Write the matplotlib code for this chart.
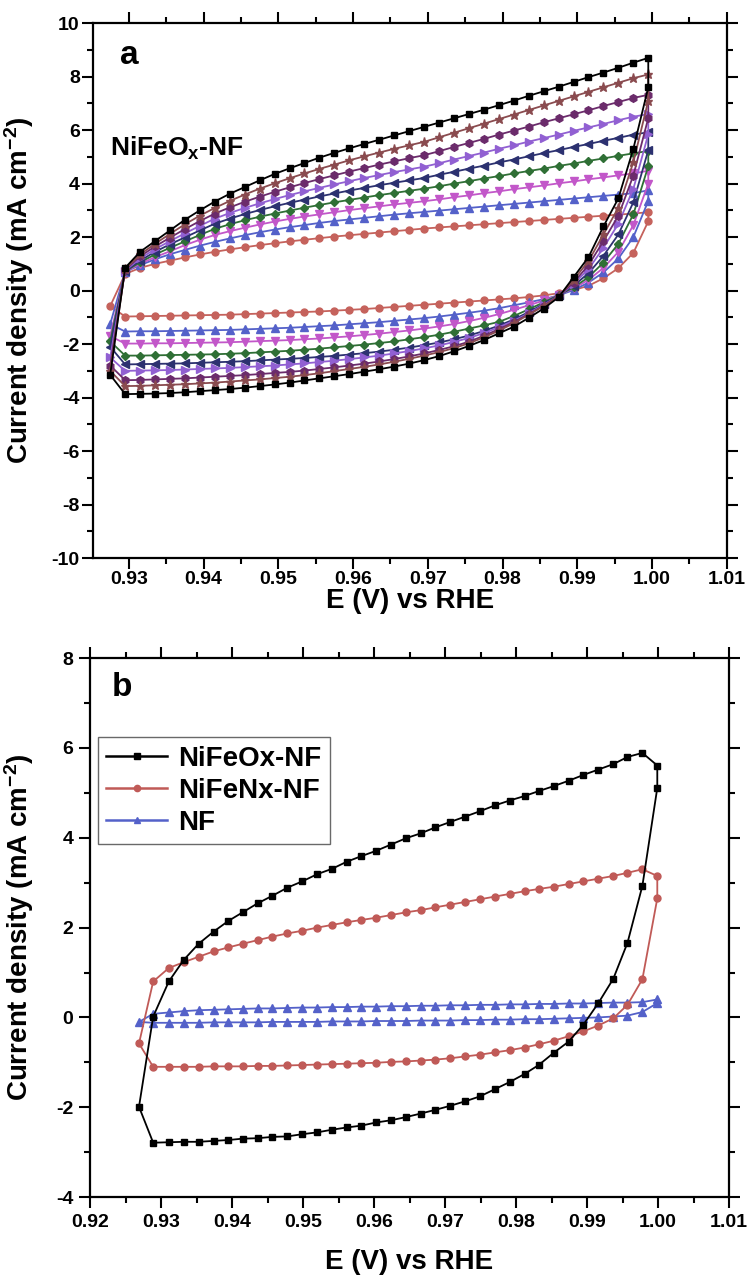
import matplotlib
matplotlib.use("Agg")
import matplotlib.pyplot as plt
from matplotlib.ticker import MultipleLocator, FormatStrFormatter
from matplotlib.lines import Line2D

plt.rcParams['font.family'] = ['Liberation Sans', 'DejaVu Sans']
plt.rcParams['font.weight'] = 'bold'
plt.rcParams['axes.unicode_minus'] = False
plt.rcParams['mathtext.fontset'] = 'custom'
plt.rcParams['mathtext.rm'] = 'Liberation Sans:bold'
plt.rcParams['mathtext.it'] = 'Liberation Sans:bold'
plt.rcParams['mathtext.bf'] = 'Liberation Sans:bold'
plt.rcParams['mathtext.default'] = 'rm'

# ---------------- panel a : NiFeOx-NF, CVs at increasing scan rate ----------------
# potential steps (V vs RHE) of the anodic sweep; the cathodic return uses the same steps
E_a = [0.9275, 0.9295, 0.9315, 0.9335, 0.9355, 0.9375, 0.9395, 0.9415, 0.9435, 0.9455,
       0.9475, 0.9495, 0.9515, 0.9535, 0.9555, 0.9575, 0.9595, 0.9615, 0.9635, 0.9655,
       0.9675, 0.9695, 0.9715, 0.9735, 0.9755, 0.9775, 0.9795, 0.9815, 0.9835, 0.9855,
       0.9875, 0.9895, 0.9915, 0.9935, 0.9955, 0.9975, 0.9995]

# anodic branch (E_a order) and cathodic branch (from 0.9995 back down to 0.9295)
black_top = [-3.15, 0.85, 1.45, 1.85, 2.25, 2.65, 3.0, 3.33, 3.62, 3.87, 4.12, 4.36, 4.57, 4.77, 4.97,
             5.15, 5.32, 5.48, 5.64, 5.8, 5.96, 6.12, 6.28, 6.44, 6.6, 6.76, 6.93, 7.1, 7.28, 7.45,
             7.62, 7.8, 7.98, 8.15, 8.33, 8.52, 8.7]
black_ret = [7.6, 5.3, 3.45, 2.4, 1.25, 0.5, -0.25, -0.67, -1.02, -1.35, -1.6, -1.85, -2.07, -2.27,
             -2.45, -2.6, -2.73, -2.84, -2.94, -3.03, -3.12, -3.2, -3.28, -3.36, -3.44, -3.51, -3.57,
             -3.63, -3.68, -3.72, -3.76, -3.8, -3.83, -3.85, -3.86, -3.87]
brown_top = [-3.0, 0.8, 1.35, 1.75, 2.12, 2.48, 2.8, 3.09, 3.35, 3.59, 3.81, 4.01, 4.2, 4.38, 4.55,
             4.71, 4.87, 5.02, 5.16, 5.3, 5.43, 5.56, 5.73, 5.9, 6.07, 6.24, 6.41, 6.58, 6.75, 6.92,
             7.09, 7.26, 7.43, 7.6, 7.77, 7.94, 8.08]
brown_ret = [7.1, 4.8, 3.1, 2.1, 1.1, 0.4, -0.22, -0.58, -0.9, -1.22, -1.5, -1.75, -1.97, -2.15,
             -2.3, -2.43, -2.55, -2.66, -2.76, -2.85, -2.93, -3.01, -3.09, -3.16, -3.22, -3.27, -3.32,
             -3.36, -3.4, -3.44, -3.47, -3.5, -3.52, -3.54, -3.56, -3.57]
purple_top = [-2.8, 0.78, 1.28, 1.65, 1.98, 2.3, 2.6, 2.88, 3.11, 3.32, 3.51, 3.69, 3.86, 4.02, 4.17,
              4.31, 4.45, 4.58, 4.71, 4.83, 4.95, 5.06, 5.21, 5.37, 5.52, 5.67, 5.83, 5.98, 6.13, 6.29,
              6.44, 6.59, 6.74, 6.9, 7.05, 7.2, 7.32]
purple_ret = [6.45, 4.3, 2.8, 1.85, 0.95, 0.3, -0.2, -0.56, -0.88, -1.18, -1.44, -1.69, -1.91, -2.08,
              -2.22, -2.35, -2.46, -2.56, -2.65, -2.73, -2.8, -2.87, -2.93, -2.99, -3.04, -3.08, -3.12,
              -3.16, -3.19, -3.22, -3.25, -3.28, -3.3, -3.32, -3.34, -3.35]
violet_top = [-2.5, 0.75, 1.2, 1.55, 1.85, 2.14, 2.42, 2.69, 2.9, 3.09, 3.26, 3.42, 3.57, 3.71, 3.84,
              3.97, 4.09, 4.21, 4.32, 4.43, 4.53, 4.63, 4.76, 4.9, 5.03, 5.16, 5.3, 5.43, 5.57, 5.7,
              5.83, 5.97, 6.1, 6.23, 6.37, 6.5, 6.6]
violet_ret = [5.85, 3.8, 2.5, 1.6, 0.8, 0.25, -0.2, -0.53, -0.85, -1.13, -1.37, -1.59, -1.77, -1.92,
              -2.05, -2.16, -2.26, -2.35, -2.43, -2.5, -2.56, -2.62, -2.67, -2.72, -2.76, -2.8, -2.83,
              -2.86, -2.89, -2.91, -2.93, -2.95, -2.97, -2.98, -2.99, -3.0]
navy_top = [-2.1, 0.72, 1.12, 1.45, 1.73, 1.99, 2.25, 2.5, 2.69, 2.86, 3.01, 3.15, 3.28, 3.4, 3.52,
            3.63, 3.74, 3.84, 3.94, 4.03, 4.12, 4.21, 4.33, 4.44, 4.56, 4.67, 4.79, 4.9, 5.02, 5.14,
            5.25, 5.37, 5.48, 5.6, 5.71, 5.83, 5.92]
navy_ret = [5.25, 3.3, 2.1, 1.3, 0.65, 0.18, -0.18, -0.5, -0.8, -1.08, -1.31, -1.51, -1.68, -1.82,
            -1.94, -2.04, -2.13, -2.21, -2.28, -2.34, -2.39, -2.44, -2.48, -2.52, -2.55, -2.58, -2.61,
            -2.64, -2.66, -2.68, -2.7, -2.72, -2.73, -2.74, -2.75, -2.76]
green_top = [-1.9, 0.72, 1.06, 1.35, 1.6, 1.84, 2.08, 2.31, 2.48, 2.63, 2.76, 2.88, 2.99, 3.1, 3.2,
             3.3, 3.39, 3.48, 3.57, 3.65, 3.73, 3.81, 3.9, 4.0, 4.09, 4.19, 4.28, 4.38, 4.47, 4.56,
             4.66, 4.75, 4.85, 4.94, 5.04, 5.13, 5.22]
green_ret = [4.65, 2.85, 1.75, 1.05, 0.5, 0.12, -0.17, -0.44, -0.7, -0.95, -1.17, -1.3, -1.42, -1.54,
             -1.65, -1.74, -1.82, -1.9, -1.96, -2.02, -2.07, -2.12, -2.17, -2.21, -2.25, -2.28, -2.31,
             -2.34, -2.36, -2.38, -2.39, -2.4, -2.41, -2.42, -2.43, -2.43]
magenta_top = [-1.7, 0.7, 1.0, 1.25, 1.47, 1.7, 1.9, 2.08, 2.22, 2.35, 2.47, 2.58, 2.68, 2.77, 2.85,
               2.93, 3.01, 3.08, 3.15, 3.22, 3.28, 3.34, 3.41, 3.49, 3.56, 3.64, 3.71, 3.79, 3.86, 3.93,
               4.01, 4.08, 4.16, 4.23, 4.31, 4.38, 4.48]
magenta_ret = [4.0, 2.45, 1.45, 0.85, 0.4, 0.08, -0.17, -0.37, -0.55, -0.72, -0.88, -1.02, -1.14,
               -1.25, -1.34, -1.42, -1.49, -1.55, -1.61, -1.66, -1.71, -1.75, -1.79, -1.82, -1.85,
               -1.87, -1.89, -1.91, -1.93, -1.94, -1.95, -1.96, -1.97, -1.97, -1.98, -1.98]
blue_top = [-1.25, 0.7, 0.95, 1.17, 1.36, 1.52, 1.68, 1.82, 1.95, 2.07, 2.18, 2.28, 2.37, 2.45, 2.53,
            2.6, 2.66, 2.72, 2.78, 2.84, 2.89, 2.94, 2.99, 3.04, 3.09, 3.14, 3.19, 3.24, 3.29, 3.34,
            3.39, 3.44, 3.49, 3.54, 3.59, 3.64, 3.75]
blue_ret = [3.35, 2.0, 1.2, 0.68, 0.3, 0.02, -0.18, -0.32, -0.44, -0.55, -0.66, -0.75, -0.83, -0.9,
            -0.97, -1.03, -1.08, -1.13, -1.18, -1.22, -1.26, -1.3, -1.33, -1.36, -1.39, -1.41, -1.43,
            -1.45, -1.47, -1.48, -1.49, -1.5, -1.51, -1.52, -1.52, -1.53]
red_top = [-0.58, 0.62, 0.85, 1.0, 1.12, 1.24, 1.35, 1.45, 1.54, 1.62, 1.7, 1.77, 1.84, 1.9, 1.96,
           2.02, 2.07, 2.12, 2.17, 2.22, 2.27, 2.32, 2.36, 2.4, 2.44, 2.48, 2.52, 2.56, 2.6, 2.64,
           2.68, 2.72, 2.76, 2.8, 2.84, 2.88, 2.93]
red_ret = [2.59, 1.41, 0.84, 0.46, 0.18, 0.02, -0.1, -0.18, -0.24, -0.29, -0.33, -0.37, -0.41, -0.45,
           -0.49, -0.53, -0.57, -0.61, -0.65, -0.69, -0.72, -0.75, -0.78, -0.8, -0.82, -0.84, -0.86,
           -0.88, -0.9, -0.91, -0.92, -0.93, -0.94, -0.95, -0.96, -0.97]

# ---------------- panel b : comparison of electrodes ----------------
E_b = [0.9269, 0.9289, 0.9311, 0.9332, 0.9353, 0.9374, 0.9395, 0.9415, 0.9436, 0.9457,
       0.9478, 0.9499, 0.952, 0.9541, 0.9562, 0.9582, 0.9603, 0.9624, 0.9645, 0.9666,
       0.9686, 0.9707, 0.9728, 0.9749, 0.977, 0.9791, 0.9812, 0.9832, 0.9853, 0.9874,
       0.9895, 0.9916, 0.9937, 0.9957, 0.9978, 0.9999]
labels_b = ['NiFeOx-NF', 'NiFeNx-NF', 'NF']
oxide_top = [-1.99, 0.02, 0.80, 1.28, 1.64, 1.91, 2.15, 2.34, 2.54, 2.71, 2.89, 3.03, 3.19, 3.31,
             3.47, 3.59, 3.71, 3.85, 3.99, 4.10, 4.23, 4.35, 4.47, 4.59, 4.72, 4.83, 4.93, 5.04,
             5.15, 5.27, 5.40, 5.52, 5.64, 5.80, 5.89, 5.61]
oxide_ret = [5.11, 2.93, 1.66, 0.86, 0.32, -0.16, -0.54, -0.79, -1.06, -1.26, -1.44, -1.60, -1.76,
             -1.87, -1.97, -2.06, -2.14, -2.22, -2.29, -2.34, -2.41, -2.45, -2.50, -2.56, -2.60,
             -2.65, -2.66, -2.69, -2.70, -2.73, -2.75, -2.77, -2.77, -2.78, -2.79]
nitride_top = [-0.58, 0.80, 1.10, 1.23, 1.35, 1.47, 1.56, 1.64, 1.72, 1.80, 1.87, 1.93, 2.00, 2.06,
               2.12, 2.17, 2.22, 2.28, 2.34, 2.39, 2.45, 2.51, 2.57, 2.63, 2.69, 2.75, 2.81, 2.86,
               2.91, 2.97, 3.03, 3.09, 3.15, 3.22, 3.30, 3.15]
nitride_ret = [2.65, 0.85, 0.28, -0.02, -0.18, -0.31, -0.42, -0.52, -0.6, -0.67, -0.73, -0.78, -0.83,
               -0.87, -0.91, -0.94, -0.96, -0.98, -0.99, -1.01, -1.02, -1.03, -1.04, -1.05, -1.06,
               -1.07, -1.08, -1.08, -1.09, -1.09, -1.09, -1.1, -1.1, -1.1, -1.1]
nf_top = [-0.10, 0.08, 0.11, 0.14, 0.16, 0.17, 0.18, 0.19, 0.2, 0.2, 0.21, 0.22, 0.22, 0.23, 0.23,
          0.24, 0.24, 0.25, 0.25, 0.26, 0.26, 0.27, 0.27, 0.28, 0.28, 0.29, 0.29, 0.3, 0.3, 0.31,
          0.31, 0.32, 0.33, 0.33, 0.34, 0.40]
nf_ret = [0.32, 0.12, 0.04, 0.02, 0.0, -0.01, -0.02, -0.03, -0.04, -0.04, -0.05, -0.05, -0.06, -0.06,
          -0.07, -0.07, -0.07, -0.08, -0.08, -0.08, -0.09, -0.09, -0.09, -0.1, -0.1, -0.1, -0.1,
          -0.11, -0.11, -0.11, -0.11, -0.12, -0.12, -0.12, -0.12]


def draw_loop(ax, E, top, ret, color, marker, ms, label=None):
    # anodic sweep, cathodic return, then close the loop
    xs = list(E) + list(E[len(E) - 1:0:-1]) + [E[0]]
    ys = list(top) + list(ret) + [top[0]]
    ax.plot(xs, ys, color=color, lw=1.3, marker=marker, ms=ms, mec=color, mfc=color,
            markevery=list(range(len(xs) - 1)), label=label)


def style_axes(ax, pad):
    ax.tick_params(which='both', direction='out', top=True, right=True, width=1.5,
                   labelsize=14, pad=pad)
    ax.tick_params(which='major', length=8)
    ax.tick_params(which='minor', length=4.5)
    for s in ax.spines.values():
        s.set_linewidth(1.6)


fig = plt.figure(figsize=(7.5, 12.83), dpi=100)

ax1 = fig.add_axes([0.124, 0.565, 0.845, 0.417])
curves_a = [
    (red_top, red_ret, '#c5625c', 'o', 5),
    (blue_top, blue_ret, '#5461c9', '^', 5.5),
    (magenta_top, magenta_ret, '#c257c9', 'v', 5.5),
    (green_top, green_ret, '#2f6f35', 'D', 4.5),
    (navy_top, navy_ret, '#2c3170', '<', 5.5),
    (violet_top, violet_ret, '#9160d2', '>', 5.5),
    (purple_top, purple_ret, '#6b2b6b', 'h', 5.5),
    (brown_top, brown_ret, '#8a4b4f', '*', 6.5),
    (black_top, black_ret, 'black', 's', 4.5),
]
for top, ret, c, m, ms in curves_a:
    draw_loop(ax1, E_a, top, ret, c, m, ms)

ax1.set_xlim(0.9252, 1.01)
ax1.set_ylim(-10, 10)
ax1.xaxis.set_major_locator(MultipleLocator(0.01))
ax1.xaxis.set_minor_locator(MultipleLocator(0.005))
ax1.xaxis.set_major_formatter(FormatStrFormatter('%.2f'))
ax1.yaxis.set_major_locator(MultipleLocator(2))
ax1.yaxis.set_minor_locator(MultipleLocator(1))
style_axes(ax1, 1.5)
ax1.set_xlabel('E (V) vs RHE', fontsize=20, fontweight='bold')
ax1.xaxis.set_label_coords(0.5, -0.056)
ax1.set_ylabel('Current density (mA cm$^{-2}$)', fontsize=20, fontweight='bold')
ax1.yaxis.set_label_coords(-0.09, 0.5)
ax1.text(0.058, 0.94, 'a', transform=ax1.transAxes, fontsize=24, fontweight='bold',
         ha='center', va='center')
ax1.text(0.027, 0.765, 'NiFeO$_{x}$-NF', transform=ax1.transAxes, fontsize=19,
         fontweight='bold', ha='left', va='center')

ax2 = fig.add_axes([0.12, 0.067, 0.852, 0.42])
draw_loop(ax2, E_b, nf_top, nf_ret, '#5461c9', '^', 5.5)
draw_loop(ax2, E_b, nitride_top, nitride_ret, '#c05a57', 'o', 5)
draw_loop(ax2, E_b, oxide_top, oxide_ret, 'black', 's', 4.5)

ax2.set_xlim(0.92, 1.01)
ax2.set_ylim(-4, 8)
ax2.xaxis.set_major_locator(MultipleLocator(0.01))
ax2.xaxis.set_minor_locator(MultipleLocator(0.005))
ax2.xaxis.set_major_formatter(FormatStrFormatter('%.2f'))
ax2.yaxis.set_major_locator(MultipleLocator(2))
ax2.yaxis.set_minor_locator(MultipleLocator(1))
style_axes(ax2, 4)
ax2.set_xlabel('E (V) vs RHE', fontsize=20, fontweight='bold')
ax2.xaxis.set_label_coords(0.5, -0.097)
ax2.set_ylabel('Current density (mA cm$^{-2}$)', fontsize=20, fontweight='bold')
ax2.yaxis.set_label_coords(-0.084, 0.5)
ax2.text(0.05, 0.946, 'b', transform=ax2.transAxes, fontsize=24, fontweight='bold',
         ha='center', va='center')

handles = [Line2D([], [], color='black', lw=1.8, marker='s', ms=4),
           Line2D([], [], color='#c05a57', lw=1.8, marker='o', ms=4.5),
           Line2D([], [], color='#5461c9', lw=1.8, marker='^', ms=5)]
leg = ax2.legend(handles, labels_b, loc='upper left', bbox_to_anchor=(0.0125, 0.853),
                 borderaxespad=0, fancybox=False, handlelength=2.2, labelspacing=0.22,
                 handletextpad=0.4, borderpad=0.3, numpoints=1,
                 prop={'family': 'Liberation Sans', 'weight': 'bold', 'size': 20})
leg.get_frame().set_edgecolor('#444444')
leg.get_frame().set_linewidth(1.0)

fig.savefig('out.png', dpi=100)
